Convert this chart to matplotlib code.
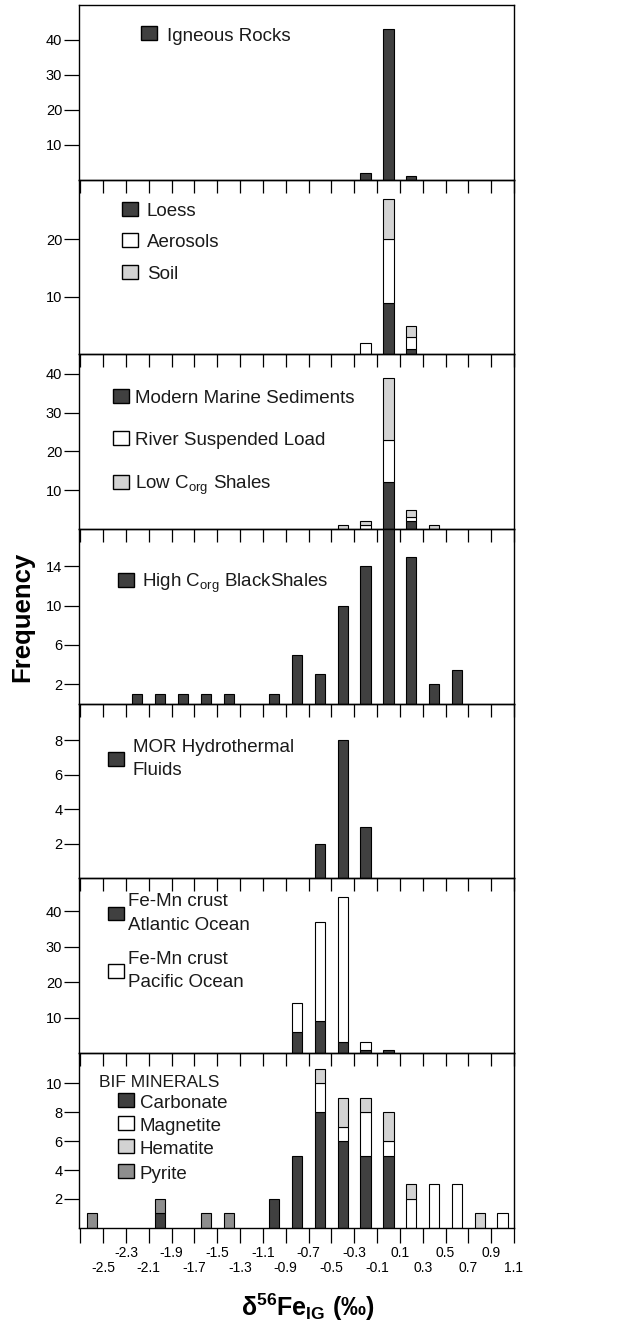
import matplotlib
matplotlib.use('Agg')
import numpy as np
import matplotlib.pyplot as plt
from matplotlib.patches import Rectangle
from matplotlib.transforms import offset_copy

plt.rcParams['font.family'] = ['Liberation Sans', 'DejaVu Sans']
plt.rcParams['mathtext.fontset'] = 'custom'
plt.rcParams['mathtext.rm'] = 'Liberation Sans'
plt.rcParams['mathtext.it'] = 'Liberation Sans:italic'
plt.rcParams['mathtext.bf'] = 'Liberation Sans:bold'

# pusat kelas histogram (permil)
pusat = [-2.6, -2.4, -2.2, -2.0, -1.8, -1.6, -1.4, -1.2, -1.0, -0.8,
         -0.6, -0.4, -0.2, 0.0, 0.2, 0.4, 0.6, 0.8, 1.0]

igneous   = [0, 0, 0, 0, 0, 0, 0, 0, 0, 0, 0, 0, 2, 43, 1, 0, 0, 0, 0]
loess     = [0, 0, 0, 0, 0, 0, 0, 0, 0, 0, 0, 0, 0, 9, 1, 0, 0, 0, 0]
aerosol   = [0, 0, 0, 0, 0, 0, 0, 0, 0, 0, 0, 0, 2, 11, 2, 0, 0, 0, 0]
tanah     = [0, 0, 0, 0, 0, 0, 0, 0, 0, 0, 0, 0, 0, 7, 2, 0, 0, 0, 0]
sedimen   = [0, 0, 0, 0, 0, 0, 0, 0, 0, 0, 0, 0, 0, 12, 2, 0, 0, 0, 0]
sungai    = [0, 0, 0, 0, 0, 0, 0, 0, 0, 0, 0, 0, 1, 11, 1, 0, 0, 0, 0]
lowCorg   = [0, 0, 0, 0, 0, 0, 0, 0, 0, 0, 0, 1, 1, 16, 2, 1, 0, 0, 0]
highCorg  = [0, 0, 1, 1, 1, 1, 1, 0, 1, 5, 3, 10, 14, 19, 15, 2, 3.4, 0, 0]
mor       = [0, 0, 0, 0, 0, 0, 0, 0, 0, 0, 2, 8, 3, 0, 0, 0, 0, 0, 0]
atlantik  = [0, 0, 0, 0, 0, 0, 0, 0, 0, 6, 9, 3, 1, 1, 0, 0, 0, 0, 0]
pasifik   = [0, 0, 0, 0, 0, 0, 0, 0, 0, 8, 28, 41, 2, 0, 0, 0, 0, 0, 0]
karbonat  = [0, 0, 0, 1, 0, 0, 0, 0, 2, 5, 8, 6, 5, 5, 0, 0, 0, 0, 0]
magnetit  = [0, 0, 0, 0, 0, 0, 0, 0, 0, 0, 2, 1, 3, 1, 2, 3, 3, 0, 1]
hematit   = [0, 0, 0, 0, 0, 0, 0, 0, 0, 0, 1, 2, 1, 2, 1, 0, 0, 1, 0]
pirit     = [1, 0, 0, 1, 0, 1, 1, 0, 0, 0, 0, 0, 0, 0, 0, 0, 0, 0, 0]

posTick = [-2.7, -2.5, -2.3, -2.1, -1.9, -1.7, -1.5, -1.3, -1.1, -0.9,
           -0.7, -0.5, -0.3, -0.1, 0.1, 0.3, 0.5, 0.7, 0.9, 1.1]
labelTick = ['', '-2.5', '-2.3', '-2.1', '-1.9', '-1.7', '-1.5', '-1.3',
             '-1.1', '-0.9', '-0.7', '-0.5', '-0.3', '-0.1', '0.1', '0.3',
             '0.5', '0.7', '0.9', '1.1']

gelap = '#404040'
putih = 'white'
abu = '#d3d3d3'
abuTua = '#8e8e8e'
lebarBatang = 0.09

fig, axs = plt.subplots(7, 1, figsize=(6.24, 13.26), dpi=100,
                        gridspec_kw={'hspace': 0})
fig.subplots_adjust(left=0.1266, right=0.8237, top=0.9962, bottom=0.0741)


def tumpuk(ax, daftar):
    bawah = np.zeros(len(pusat))
    for nilai, warna in daftar:
        nilai = np.array(nilai, dtype=float)
        ada = nilai > 0
        ax.bar(np.array(pusat)[ada], nilai[ada], lebarBatang, bottom=bawah[ada],
               color=warna, edgecolor='black', linewidth=0.8, zorder=2)
        bawah = bawah + nilai


def kunci(ax, xs, y, warna, teks, xt, dua=False):
    ax.add_patch(Rectangle((xs - 0.0184, y - 0.04), 0.0368, 0.08,
                           transform=ax.transAxes, facecolor=warna,
                           edgecolor='black', linewidth=1.0, clip_on=False))
    if dua:
        ax.text(xt, y, teks, transform=ax.transAxes, fontsize=13.5,
                va='center', ha='left', color='#1a1a1a', linespacing=1.48)
    else:
        tr = offset_copy(ax.transAxes, fig=fig, y=-5.3, units='points')
        ax.text(xt, y, teks, transform=tr, fontsize=13.5, va='baseline',
                ha='left', color='#1a1a1a')


# panel 1
tumpuk(axs[0], [(igneous, gelap)])
kunci(axs[0], 0.160, 0.839, gelap, 'Igneous Rocks', 0.202)
axs[0].set_ylim(0, 50)
axs[0].set_yticks([10, 20, 30, 40])

# panel 2
tumpuk(axs[1], [(loess, gelap), (aerosol, putih), (tanah, abu)])
kunci(axs[1], 0.118, 0.834, gelap, 'Loess', 0.156)
kunci(axs[1], 0.118, 0.657, putih, 'Aerosols', 0.156)
kunci(axs[1], 0.118, 0.474, abu, 'Soil', 0.156)
axs[1].set_ylim(0, 30.4)
axs[1].set_yticks([10, 20])

# panel 3
tumpuk(axs[2], [(sedimen, gelap), (sungai, putih), (lowCorg, abu)])
kunci(axs[2], 0.0966, 0.764, gelap, 'Modern Marine Sediments', 0.129)
kunci(axs[2], 0.0966, 0.521, putih, 'River Suspended Load', 0.129)
kunci(axs[2], 0.0966, 0.272, abu, r'Low C$_\mathregular{org}$ Shales', 0.129)
axs[2].set_ylim(0, 45)
axs[2].set_yticks([10, 20, 30, 40])

# panel 4
tumpuk(axs[3], [(highCorg, gelap)])
kunci(axs[3], 0.109, 0.711, gelap, r'High C$_\mathregular{org}$ BlackShales', 0.145)
axs[3].set_ylim(0, 17.8)
axs[3].set_yticks([2, 6, 10, 14])

# panel 5
tumpuk(axs[4], [(mor, gelap)])
kunci(axs[4], 0.084, 0.683, gelap, 'MOR Hydrothermal\nFluids', 0.124, dua=True)
axs[4].set_ylim(0, 10.1)
axs[4].set_yticks([2, 4, 6, 8])

# panel 6
tumpuk(axs[5], [(atlantik, gelap), (pasifik, putih)])
kunci(axs[5], 0.084, 0.799, gelap, 'Fe-Mn crust\nAtlantic Ocean', 0.113, dua=True)
kunci(axs[5], 0.084, 0.471, putih, 'Fe-Mn crust\nPacific Ocean', 0.113, dua=True)
axs[5].set_ylim(0, 49.3)
axs[5].set_yticks([10, 20, 30, 40])

# panel 7
tumpuk(axs[6], [(karbonat, gelap), (magnetit, putih), (hematit, abu), (pirit, abuTua)])
axs[6].text(0.046, 0.804, 'BIF MINERALS', transform=axs[6].transAxes,
            fontsize=12.5, va='baseline', ha='left', color='#1a1a1a')
kunci(axs[6], 0.108, 0.730, gelap, 'Carbonate', 0.140)
kunci(axs[6], 0.108, 0.597, putih, 'Magnetite', 0.140)
kunci(axs[6], 0.108, 0.466, abu, 'Hematite', 0.140)
kunci(axs[6], 0.108, 0.324, abuTua, 'Pyrite', 0.140)
axs[6].set_ylim(0, 12.1)
axs[6].set_yticks([2, 4, 6, 8, 10])

for i, ax in enumerate(axs):
    ax.set_facecolor('none')
    ax.set_xlim(-2.711, 1.1)
    for s in ax.spines.values():
        s.set_linewidth(1.0)
    ax.tick_params(axis='y', direction='out', length=10.5, width=0.9,
                   pad=1.5, labelsize=10.5)
    ax.set_xticks(posTick)
    if i < 6:
        # tick atas panel berikutnya = tick bawah panel ini
        ax.tick_params(axis='x', direction='out', length=9, width=0.9,
                       labelbottom=False)
    else:
        ax.set_xticklabels(labelTick)
        ax.tick_params(axis='x', direction='out', length=11, width=0.9,
                       labelsize=10)
        for j, t in enumerate(ax.xaxis.get_major_ticks()):
            if j % 2 == 0:
                t.set_pad(2)
            else:
                t.set_pad(13.2)

fig.text(0.035, 0.535, 'Frequency', rotation=90, fontsize=18.5,
         fontweight='bold', ha='center', va='center')
fig.text(0.494, 0.0143, r'δ$^{\mathbf{56}}$Fe$_{\mathbf{IG}}$ (‰)',
         fontsize=18, fontweight='bold', ha='center', va='center')

fig.savefig('out.png', dpi=100)
